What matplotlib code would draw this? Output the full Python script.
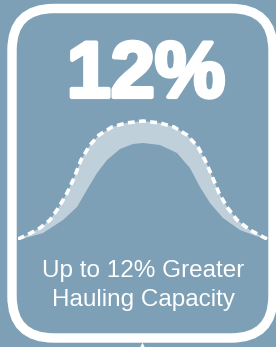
import matplotlib.pyplot as plt
import matplotlib.patheffects as pe
from matplotlib.patches import FancyBboxPatch

# curve values (x across the curve, height above baseline, px)
x_top = [0, 9, 22, 32, 41, 49, 56, 63, 72, 81, 94, 108, 125, 142, 156, 169, 180, 187, 194, 201, 209, 219, 232, 249]
h_top = [1, 5, 12, 20, 33, 47, 62, 80, 95, 105, 113, 117, 119, 117, 113, 105, 93, 80, 64, 47, 33, 20, 10, 1]
x_low = [0, 25, 45, 59, 70, 79, 89, 102, 115, 125, 142, 159, 172, 182, 192, 205, 222, 249]
h_low = [0, 7, 20, 33, 52, 67, 80, 91, 96, 97, 95, 87, 72, 53, 37, 22, 10, 0]

headline = "12%"
caption = ["Up to 12% Greater", "Hauling Capacity"]

bg = "#7da0b6"
band = "#c0d0da"

fig = plt.figure(figsize=(2.76, 3.47), dpi=100)
fig.patch.set_facecolor(bg)

# background axes in pixel units
ax = fig.add_axes([0, 0, 1, 1])
ax.set_xlim(0, 276)
ax.set_ylim(0, 347)
ax.axis("off")

frame = FancyBboxPatch((12, 9), 261, 329.5, boxstyle="round,pad=0,rounding_size=42",
                       facecolor="none", edgecolor="white", linewidth=6.8)
ax.add_patch(frame)
ax.scatter([142], [1], marker="^", s=30, color="white", linewidths=0)

ax.text(146, 250, headline, ha="center", va="baseline", color="white",
        fontsize=57, fontweight="bold", family="Liberation Sans",
        path_effects=[pe.withStroke(linewidth=3, foreground="white")])
ax.text(143, 70, caption[0], ha="center", va="baseline", color="white",
        fontsize=17.5, family="Liberation Sans")
ax.text(143, 41, caption[1], ha="center", va="baseline", color="white",
        fontsize=17.5, family="Liberation Sans")

# curve axes
cax = fig.add_axes([18 / 276, 107 / 347, 250 / 276, 130 / 347])
cax.set_xlim(0, 250)
cax.set_ylim(0, 130)
cax.axis("off")
cax.patch.set_alpha(0)
cax.fill(x_top + x_low[::-1], h_top + h_low[::-1], color=band, linewidth=0)
cax.plot(x_top, h_top, color="white", linewidth=2.6, dashes=(1.9, 1.2),
         dash_capstyle="butt", solid_joinstyle="round")

fig.savefig("out.png", dpi=100, facecolor=bg)
